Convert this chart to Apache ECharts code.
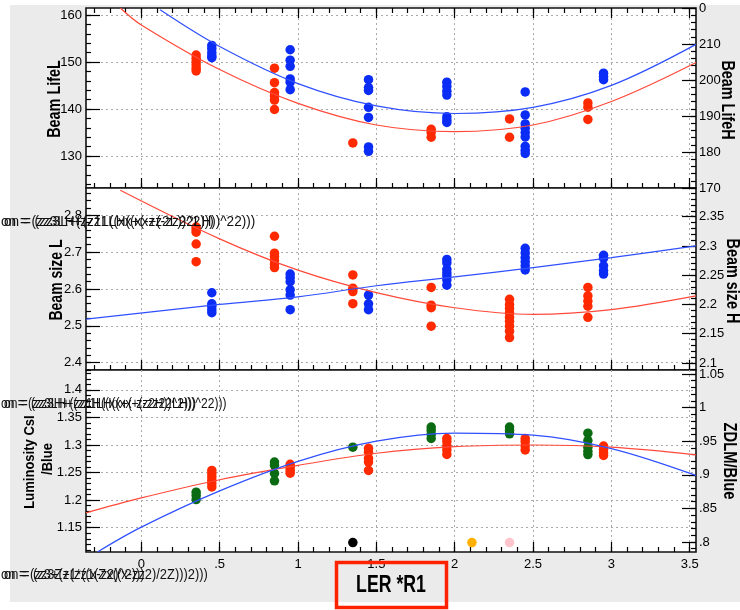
<!DOCTYPE html>
<html><head><meta charset="utf-8">
<script src="https://cdn.jsdelivr.net/npm/echarts@6/dist/echarts.min.js"></script>
<style>html,body{margin:0;padding:0;background:#fff}#c{width:740px;height:610px}</style>
</head><body><div id="c"></div>
<script>
// ---------------- DATA ----------------
const X_RANGE = [-0.353, 3.54];
const xTicks = [0, 0.5, 1, 1.5, 2, 2.5, 3, 3.5];
const xTickLabels = ['0', '.5', '1', '1.5', '2', '2.5', '3', '3.5'];

// Panel 1 : Beam lifetime
const lifeLRange = [123.2, 161.5];
const lifeLTicks = [130, 140, 150, 160];
const lifeLTickLabels = ['130', '140', '150', '160'];
const lifeHRange = [170, 220];
const lifeHTicks = [170, 180, 190, 200, 210, 220];
const lifeHTickLabels = ['170', '180', '190', '200', '210', '0'];
const lifeLX = [0.35, 0.85, 1.35, 1.85, 2.35, 2.85];
const lifeLVals = [
  [151.5, 150.8, 150.1, 149.4, 148.7, 148.1],
  [148.7, 145.6, 143.5, 142.8, 141.9, 139.9],
  [132.8],
  [135.7, 135.0, 134.0],
  [137.9, 134.0],
  [141.3, 140.4, 137.8]
];
const lifeHX = [0.45, 0.95, 1.45, 1.95, 2.45, 2.95];
const lifeHVals = [
  [209.6, 208.7, 207.6, 206.7, 206.2],
  [208.4, 205.5, 203.8, 200.3, 199.4, 197.3],
  [200.1, 197.9, 197.1, 192.4, 189.6, 181.4, 180.2],
  [199.4, 198.2, 196.9, 195.8, 189.8, 188.9, 188.2],
  [196.7, 190.3, 187.8, 186.6, 185.4, 184.2, 181.6, 180.5, 179.6],
  [201.9, 201.0, 200.1]
];
const lifeLFitX = [-0.134, 0, 0.5, 1, 1.5, 2, 2.5, 3, 3.54];
const lifeLFitY = [161.5, 157.9, 148.4, 141.2, 136.6, 135.2, 136.6, 141.6, 149.9];
const lifeHFitX = [0.12, 0.5, 1, 1.5, 2, 2.5, 3, 3.54];
const lifeHFitY = [219.5, 209.3, 199.0, 192.8, 190.7, 192.4, 198.5, 209.9];

// Panel 2 : Beam size
const sizeLRange = [2.38, 2.874];
const sizeLTicks = [2.4, 2.5, 2.6, 2.7, 2.8];
const sizeLTickLabels = ['2.4', '2.5', '2.6', '2.7', '2.8'];
const sizeHRange = [2.088, 2.399];
const sizeHTicks = [2.1, 2.15, 2.2, 2.25, 2.3, 2.35];
const sizeHTickLabels = ['2.1', '2.15', '2.2', '2.25', '2.3', '2.35'];
const sizeLX = [0.35, 0.85, 1.35, 1.85, 2.35, 2.85];
const sizeLVals = [
  [2.768, 2.761, 2.754, 2.722, 2.674],
  [2.743, 2.697, 2.688, 2.677, 2.668, 2.658],
  [2.638, 2.602, 2.593, 2.560],
  [2.604, 2.556, 2.549, 2.499],
  [2.572, 2.558, 2.547, 2.535, 2.523, 2.512, 2.499, 2.485, 2.468],
  [2.604, 2.581, 2.567, 2.553, 2.523]
];
const sizeHX = [0.45, 0.95, 1.45, 1.95, 2.45, 2.95];
const sizeHVals = [
  [2.220, 2.201, 2.197, 2.191, 2.186],
  [2.252, 2.246, 2.239, 2.225, 2.216, 2.191],
  [2.216, 2.201, 2.191],
  [2.277, 2.271, 2.260, 2.254, 2.249, 2.242, 2.233],
  [2.296, 2.288, 2.280, 2.273, 2.266, 2.259],
  [2.284, 2.279, 2.266, 2.258, 2.252]
];
const sizeLFitX = [-0.134, 0.5, 1, 1.5, 2, 2.5, 3, 3.54];
const sizeLFitY = [2.868, 2.736, 2.651, 2.590, 2.549, 2.531, 2.544, 2.581];
const sizeHFitX = [-0.353, 0.5, 1, 1.5, 2, 2.5, 3, 3.54];
const sizeHFitY = [2.175, 2.200, 2.213, 2.232, 2.247, 2.263, 2.280, 2.300];

// Panel 3 : Luminosity
const lumiRange = [1.106, 1.436];
const lumiTicks = [1.15, 1.2, 1.25, 1.3, 1.35, 1.4];
const lumiTickLabels = ['1.15', '1.2', '1.25', '1.3', '1.35', '1.4'];
const zdlmRange = [0.785, 1.056];
const zdlmTicks = [0.8, 0.85, 0.9, 0.95, 1, 1.05];
const zdlmTickLabels = ['.8', '.85', '.9', '.95', '1', '1.05'];
const lumiX = [0.45, 0.95, 1.45, 1.95, 2.45, 2.95];
const lumiVals = [
  [1.254, 1.248, 1.242, 1.236, 1.230, 1.224],
  [1.265, 1.259, 1.254, 1.249],
  [1.294, 1.287, 1.276, 1.269, 1.254],
  [1.312, 1.306, 1.298, 1.291, 1.283],
  [1.312, 1.306, 1.298, 1.291],
  [1.298, 1.292, 1.286, 1.281]
];
const zdlmX = [0.35, 0.85, 1.35, 1.85, 2.35, 2.85];
const zdlmVals = [
  [0.874, 0.869, 0.863],
  [0.919, 0.914, 0.902, 0.891],
  [0.941],
  [0.971, 0.966, 0.960, 0.954],
  [0.971, 0.966, 0.961],
  [0.962, 0.951, 0.941, 0.935, 0.930]
];
const lumiFitX = [-0.353, 0, 0.5, 1, 1.5, 2, 2.5, 3, 3.54];
const lumiFitY = [1.177, 1.204, 1.237, 1.263, 1.285, 1.297, 1.300, 1.296, 1.282];
const zdlmFitX = [-0.28, 0, 0.5, 1, 1.5, 2, 2.5, 3, 3.54];
const zdlmFitY = [0.785, 0.822, 0.876, 0.920, 0.950, 0.962, 0.959, 0.939, 0.899];
const refMarkX = [1.35, 2.11, 2.35];
const refMarkY = [0.799, 0.799, 0.799];

// ---------------- BUILD ----------------
const SANS = "'Liberation Sans',Arial,sans-serif";
const RED = '#ff2a00', BLUE = '#0a2cf5', GREEN = '#0b6b12';
const RED_LINE = '#ff4a3a', BLUE_LINE = '#3050ff';

function groups(xs, vals) {
  const out = [];
  xs.forEach((x, i) => vals[i].forEach(v => out.push([x, v])));
  return out;
}
function zip(xs, ys) { return xs.map((x, i) => [x, ys[i]]); }
function steps(range, step) {
  const out = [];
  const start = Math.ceil(range[0] / step - 1e-9);
  for (let k = start; k * step <= range[1] + 1e-9; k++) out.push(+(k * step).toFixed(6));
  return out;
}
function labelFn(ticks, labels) {
  return v => {
    const i = ticks.findIndex(t => Math.abs(t - v) < 1e-7);
    return i >= 0 ? labels[i] : '';
  };
}

const gridDefs = [
  { top: 8, height: 180 },
  { top: 188, height: 182 },
  { top: 370, height: 182 }
];
const grid = gridDefs.map(g => ({
  left: 86, right: 44, top: g.top, height: g.height,
  show: true, backgroundColor: '#fff', borderColor: '#111', borderWidth: 1.6
}));

const GRIDLINE = { show: true, lineStyle: { type: [2, 3], color: '#a9a9a9', width: 1 } };
const xMinorTicks = steps(X_RANGE, 0.1);

const xAxis = [];
const xMajorIdx = [];
function addX(g, pos, major, showLabel) {
  const ax = {
    type: 'value', gridIndex: g, position: pos, min: X_RANGE[0], max: X_RANGE[1],
    axisLine: { show: false, onZero: false },
    axisTick: { show: true, inside: true, length: major ? 10 : 5,
      customValues: major ? xTicks : xMinorTicks, lineStyle: { color: '#000', width: 1.2 } },
    axisLabel: { show: !!showLabel, customValues: xTicks, formatter: labelFn(xTicks, xTickLabels),
      color: '#000', fontSize: 13, fontFamily: SANS, margin: 6 },
    splitLine: major && pos === 'bottom' ? GRIDLINE : { show: false }
  };
  xAxis.push(ax);
  return xAxis.length - 1;
}
for (let g = 0; g < 3; g++) {
  xMajorIdx.push(addX(g, 'bottom', true, g === 2));
  addX(g, 'bottom', false, false);
}
addX(0, 'top', true, false);
addX(0, 'top', false, false);

const yAxis = [];
function addY(g, pos, range, ticks, labels, minorStep, split) {
  const major = {
    type: 'value', gridIndex: g, position: pos, min: range[0], max: range[1],
    axisLine: { show: false, onZero: false },
    axisTick: { show: true, inside: true, length: 14, customValues: ticks, lineStyle: { color: '#000', width: 1.2 } },
    axisLabel: { show: true, customValues: ticks, formatter: labelFn(ticks, labels),
      color: '#000', fontSize: 13, fontFamily: SANS, margin: pos === 'left' ? 4 : 3 },
    splitLine: split ? GRIDLINE : { show: false }
  };
  yAxis.push(major);
  const idx = yAxis.length - 1;
  yAxis.push({
    type: 'value', gridIndex: g, position: pos, min: range[0], max: range[1],
    axisLine: { show: false, onZero: false },
    axisTick: { show: true, inside: true, length: 5, customValues: steps(range, minorStep), lineStyle: { color: '#000', width: 1.2 } },
    axisLabel: { show: false }, splitLine: { show: false }
  });
  return idx;
}
const yLifeL = addY(0, 'left', lifeLRange, lifeLTicks, lifeLTickLabels, 2, true);
const yLifeH = addY(0, 'right', lifeHRange, lifeHTicks, lifeHTickLabels, 2, false);
const ySizeL = addY(1, 'left', sizeLRange, sizeLTicks, sizeLTickLabels, 0.02, true);
const ySizeH = addY(1, 'right', sizeHRange, sizeHTicks, sizeHTickLabels, 0.01, false);
const yLumi = addY(2, 'left', lumiRange, lumiTicks, lumiTickLabels, 0.01, true);
const yZdlm = addY(2, 'right', zdlmRange, zdlmTicks, zdlmTickLabels, 0.01, false);

function scatter(xi, yi, data, color) {
  return { type: 'scatter', xAxisIndex: xi, yAxisIndex: yi, data, symbol: 'circle', symbolSize: 9.5,
    itemStyle: { color, opacity: 1 }, z: 3, silent: true };
}
function fit(xi, yi, data, color) {
  return { type: 'line', xAxisIndex: xi, yAxisIndex: yi, data, smooth: 0.35, showSymbol: false,
    lineStyle: { color, width: 1.2 }, clip: true, z: 4, silent: true };
}

const refColors = ['#000000', '#ffb000', '#ffc4cc'];
const series = [
  scatter(xMajorIdx[0], yLifeL, groups(lifeLX, lifeLVals), RED),
  scatter(xMajorIdx[0], yLifeH, groups(lifeHX, lifeHVals), BLUE),
  fit(xMajorIdx[0], yLifeL, zip(lifeLFitX, lifeLFitY), RED_LINE),
  fit(xMajorIdx[0], yLifeH, zip(lifeHFitX, lifeHFitY), BLUE_LINE),
  scatter(xMajorIdx[1], ySizeL, groups(sizeLX, sizeLVals), RED),
  scatter(xMajorIdx[1], ySizeH, groups(sizeHX, sizeHVals), BLUE),
  fit(xMajorIdx[1], ySizeL, zip(sizeLFitX, sizeLFitY), RED_LINE),
  fit(xMajorIdx[1], ySizeH, zip(sizeHFitX, sizeHFitY), BLUE_LINE),
  scatter(xMajorIdx[2], yLumi, groups(lumiX, lumiVals), RED),
  scatter(xMajorIdx[2], yZdlm, groups(zdlmX, zdlmVals), GREEN),
  fit(xMajorIdx[2], yLumi, zip(lumiFitX, lumiFitY), RED_LINE),
  fit(xMajorIdx[2], yZdlm, zip(zdlmFitX, zdlmFitY), BLUE_LINE)
];
refMarkX.forEach((x, i) => series.push(scatter(xMajorIdx[2], yZdlm, [[x, refMarkY[i]]], refColors[i])));

function vtext(text, x, y, rot, size, sx) {
  return { type: 'text', x, y, rotation: rot, scaleX: sx, z: 50,
    style: { text, font: 'bold ' + size + 'px ' + SANS, fill: '#000', align: 'center', verticalAlign: 'middle' } };
}
function garble(a, b, y, dx, w) {
  return [
    { type: 'text', x: 1, y, z: 60, scaleX: w,
      style: { text: a, font: '14px ' + SANS, fill: '#111', verticalAlign: 'middle' } },
    { type: 'text', x: 1 + dx, y, z: 60, scaleX: w,
      style: { text: b, font: '14px ' + SANS, fill: '#111', verticalAlign: 'middle' } }
  ];
}

const graphic = [
  { type: 'rect', shape: { x: 10, y: 5, width: 730, height: 597 }, style: { fill: '#ebebeb' }, z: -100 },
  vtext('Beam LifeL', 55, 99, Math.PI / 2, 18, 0.8),
  vtext('Beam size L', 57, 280, Math.PI / 2, 18, 0.78),
  vtext('Luminosity CsI', 30, 462, Math.PI / 2, 14, 0.93),
  vtext('/Blue', 48, 459, Math.PI / 2, 14, 0.93),
  vtext('Beam LifeH', 727, 100, -Math.PI / 2, 18, 0.8),
  vtext('Beam size H', 732, 281, -Math.PI / 2, 18, 0.8),
  vtext('ZDLM/Blue', 729, 461, -Math.PI / 2, 18, 0.82),
  { type: 'rect', shape: { x: 336.5, y: 562.5, width: 110, height: 45 },
    style: { fill: 'none', stroke: '#ff2200', lineWidth: 3.5 }, z: 50 },
  { type: 'text', x: 391, y: 586, scaleX: 0.77, z: 51,
    style: { text: 'LER *R1', font: 'bold 23px ' + SANS, fill: '#000', align: 'center', verticalAlign: 'middle' } },
  ...garble('on = (zz3LH+(zz1LH((xx+(-zz22LH))^22)))', 'on = (zz3L+(zz1L((xx+(-zz2L))^2)))', 222, 3, 0.97),
  ...garble('on = (zz3LH+(zz1LH((xx+(-zz22LH))^22)))', 'on = (zz3H+(zz1H((xx+(-zz2H))^2)))', 404, 3, 0.86),
  ...garble('on = (zz3Z+(zz1(Zx((x-zz2)/2Z)))2)))', 'on = (z3+(z1*((x-z2)^2)))', 575, 3, 0.92)
];

const chart = echarts.init(document.getElementById('c'), null, { renderer: 'canvas' });
chart.setOption({
  backgroundColor: '#fff',
  animation: false,
  grid, xAxis, yAxis, series, graphic
});
</script></body></html>
